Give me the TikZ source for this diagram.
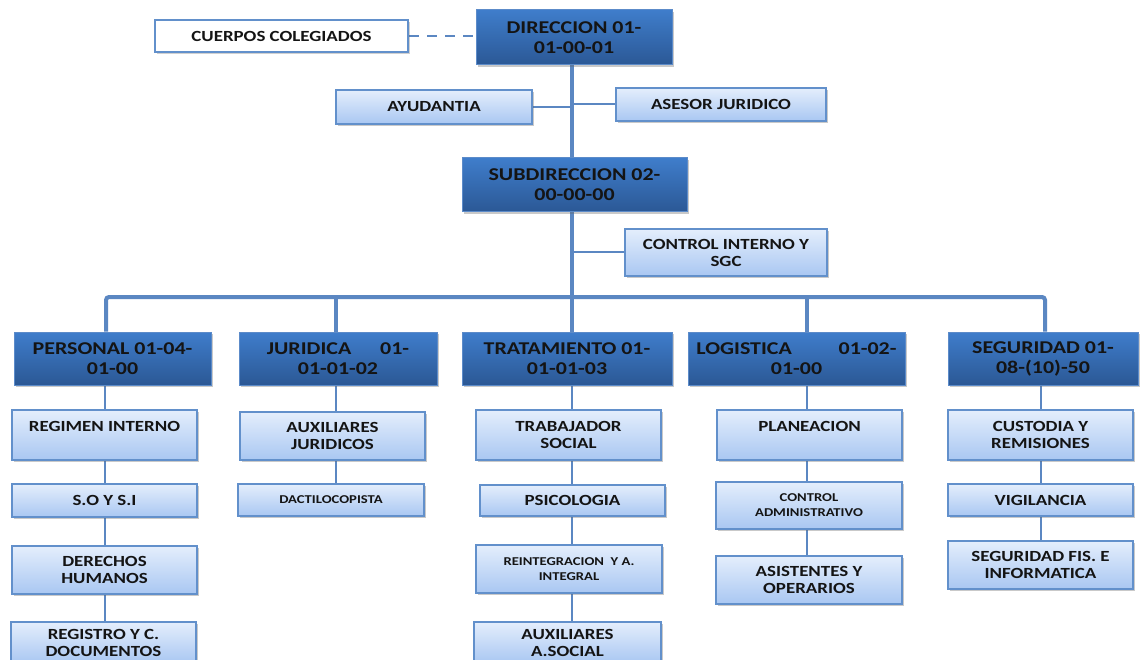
\documentclass[tikz,border=0pt]{standalone}
\usepackage{fontspec}
\setmainfont{Carlito}[FakeStretch=1.22]
\usetikzlibrary{shadows,backgrounds}
\definecolor{dtop}{HTML}{3F7DCB}
\definecolor{dbot}{HTML}{2B5895}
\definecolor{dbord}{HTML}{5C8BC9}
\definecolor{ltop}{HTML}{E4EEFC}
\definecolor{lbot}{HTML}{A9C7F2}
\definecolor{lbord}{HTML}{6290CB}
\definecolor{linec}{HTML}{5B87C2}
\definecolor{txt}{HTML}{141414}
\tikzset{
  boxbase/.style={rectangle, align=center, inner sep=2pt, text=txt,
    drop shadow={shadow xshift=1.5pt, shadow yshift=-2pt, opacity=0.35, fill=black!60}},
  darkbox/.style={boxbase, top color=dtop, bottom color=dbot, draw=dbord, line width=1pt,
    font=\fontsize{18}{20}\selectfont\bfseries},
  lightbox/.style={boxbase, top color=ltop, bottom color=lbot, draw=lbord, line width=1.2pt,
    font=\fontsize{15.5}{17}\selectfont\bfseries},
  smallbox/.style={lightbox, font=\fontsize{12}{15}\selectfont\bfseries},
  whitebox/.style={rectangle, align=center, fill=white, draw=lbord, line width=2.5pt, text=txt,
    font=\fontsize{15.5}{17}\selectfont\bfseries,
    drop shadow={shadow xshift=1.5pt, shadow yshift=-2pt, opacity=0.3, fill=black!60}},
  trunk/.style={draw=linec, line width=4pt},
  link/.style={draw=linec, line width=2pt},
  dashlink/.style={draw=linec, line width=1.5pt, dash pattern=on 10pt off 8pt},
}
\begin{document}
\begin{tikzpicture}[x=1pt,y=-1pt]
\useasboundingbox (0,0) rectangle (1140,660);
\clip (0,0) rectangle (1140,660);

% column coordinates
\coordinate (tx) at (572,0);
\coordinate (busL) at (106,297);
\coordinate (busR) at (1045,297);
\coordinate (cJ) at (336,0);
\coordinate (cL) at (807,0);
\coordinate (cP) at (105,0);
\coordinate (cS) at (1041,0);

% top nodes
\node[darkbox, minimum width=196pt, minimum height=55pt] (dir) at (574,37.5) {DIRECCION 01-\\01-00-01};
\node[whitebox, minimum width=253pt, minimum height=32pt] (cue) at (281.5,36) {CUERPOS COLEGIADOS};
\node[lightbox, minimum width=196pt, minimum height=34pt] (ayu) at (434,107) {AYUDANTIA};
\node[lightbox, minimum width=210pt, minimum height=33pt] (ase) at (721,104.5) {ASESOR JURIDICO};
\node[darkbox, minimum width=225pt, minimum height=54pt] (sub) at (574.5,185) {SUBDIRECCION 02-\\00-00-00};
\node[lightbox, minimum width=202pt, minimum height=47pt] (ci) at (726,252.5) {CONTROL INTERNO Y\\SGC};

% level 1
\node[darkbox, minimum width=197pt, minimum height=53pt] (per) at (112.5,358.5) {PERSONAL 01-04-\\01-00};
\node[darkbox, minimum width=198pt, minimum height=53pt] (jur) at (338,358.5) {JURIDICA\hspace{1.6em}01-\\01-01-02};
\node[darkbox, minimum width=210pt, minimum height=53pt] (tra) at (567,358.5) {TRATAMIENTO 01-\\01-01-03};
\node[darkbox, minimum width=217pt, minimum height=53pt] (log) at (796.5,358.5) {LOGISTICA\hspace{2.6em}01-02-\\01-00};
\node[darkbox, minimum width=190pt, minimum height=53pt] (seg) at (1043,358.5) {SEGURIDAD 01-\\08-(10)-50};

% PERSONAL column
\node[lightbox, minimum width=185pt, minimum height=50pt] (p1) at (104.5,435) {REGIMEN INTERNO\\\mbox{}};
\node[lightbox, minimum width=185pt, minimum height=33pt] (p2) at (104.5,500.5) {S.O Y S.I};
\node[lightbox, minimum width=185pt, minimum height=48pt] (p3) at (104.5,570) {DERECHOS\\HUMANOS};
\node[lightbox, minimum width=185pt, minimum height=41pt] (p4) at (103.5,642.5) {REGISTRO Y C.\\DOCUMENTOS};

% JURIDICA column
\node[lightbox, minimum width=185pt, minimum height=48pt] (j1) at (332.5,436) {AUXILIARES\\JURIDICOS};
\node[smallbox, minimum width=186pt, minimum height=32pt] (j2) at (331,500) {DACTILOCOPISTA};

% TRATAMIENTO column
\node[lightbox, minimum width=185pt, minimum height=50pt] (t1) at (568.5,435) {TRABAJADOR\\SOCIAL};
\node[lightbox, minimum width=185pt, minimum height=31pt] (t2) at (572.5,500.5) {PSICOLOGIA};
\node[smallbox, minimum width=186pt, minimum height=48pt] (t3) at (569,569) {REINTEGRACION \ Y A.\\INTEGRAL};
\node[lightbox, minimum width=187pt, minimum height=41pt] (t4) at (567.5,642.5) {AUXILIARES\\A.SOCIAL};

% LOGISTICA column
\node[lightbox, minimum width=185pt, minimum height=50pt] (l1) at (809.5,435) {PLANEACION\\\mbox{}};
\node[smallbox, minimum width=186pt, minimum height=47pt] (l2) at (809,505.5) {CONTROL\\ADMINISTRATIVO};
\node[lightbox, minimum width=186pt, minimum height=48pt] (l3) at (809,580) {ASISTENTES Y\\OPERARIOS};

% SEGURIDAD column
\node[lightbox, minimum width=185pt, minimum height=50pt] (s1) at (1040.5,435) {CUSTODIA Y\\REMISIONES};
\node[lightbox, minimum width=185pt, minimum height=32pt] (s2) at (1040.5,500) {VIGILANCIA};
\node[lightbox, minimum width=185pt, minimum height=48pt] (s3) at (1040.5,565) {SEGURIDAD FIS. E\\INFORMATICA};

% connectors (behind boxes)
\begin{pgfonlayer}{background}
  \fill[white] (0,0) rectangle (1140,660);
  \draw[dashlink] (cue.east) -- (dir.west |- cue.east);
  \draw[trunk] (dir.south -| tx) -- (tra.north -| tx);
  \draw[link] (ayu.east) -- (ayu.east -| tx);
  \draw[link] (ase.west) -- (ase.west -| tx);
  \draw[link] (ci.west) -- (ci.west -| tx);
  \draw[trunk, rounded corners=3pt] (busL |- per.north) -- (busL) -- (busR) -- (busR |- seg.north);
  \draw[trunk] (cJ |- busL) -- (cJ |- jur.north);
  \draw[trunk] (cL |- busL) -- (cL |- log.north);
  \draw[link] (cP |- per.south) -- (cP |- p4.north);
  \draw[link] (cJ |- jur.south) -- (cJ |- j2.north);
  \draw[link] (tx |- tra.south) -- (tx |- t4.north);
  \draw[link] (cL |- log.south) -- (cL |- l3.north);
  \draw[link] (cS |- seg.south) -- (cS |- s3.north);
\end{pgfonlayer}
\end{tikzpicture}
\end{document}
